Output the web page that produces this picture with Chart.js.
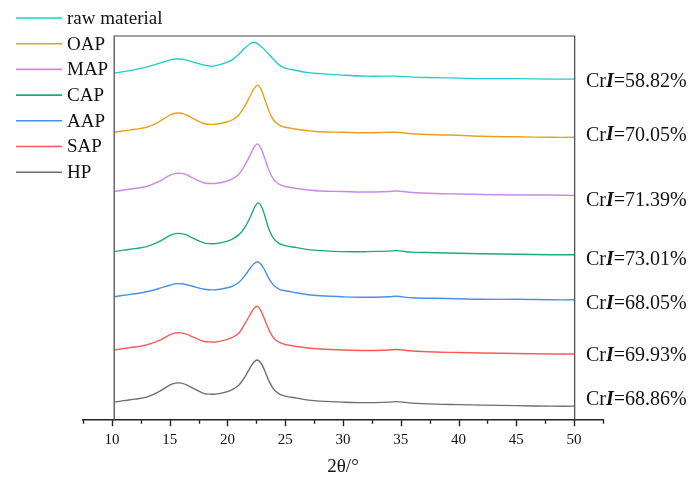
<!DOCTYPE html>
<html>
<head>
<meta charset="utf-8">
<script src="https://cdn.jsdelivr.net/npm/chart.js@4.4.1/dist/chart.umd.min.js"></script>
<style>
  html, body { margin: 0; padding: 0; background: #fff; }
  #xrd { display: block; }
</style>
</head>
<body>
<canvas id="xrd" width="688" height="478"></canvas>
<script>
// XRD patterns, stacked (intensity in arbitrary units, offsets included)

const THETA = [10.2, 11, 12, 13, 14, 15, 15.5, 16, 16.5, 17, 18, 18.5, 19, 20, 20.5, 21, 21.5, 22, 22.3, 22.6,
  22.9, 23.2, 23.6, 24, 24.5, 25, 26, 27, 28, 30, 32, 34, 34.6, 36, 38, 40, 42, 45, 48, 50];

const SAMPLES = ['raw material', 'OAP', 'MAP', 'CAP', 'AAP', 'SAP', 'HP'];
const CRI = ['58.82', '70.05', '71.39', '73.01', '68.05', '69.93', '68.86'];

const RAW = [346, 347.5, 349.5, 352, 355.5, 359, 360, 360, 359, 357, 354, 353, 353.5, 357, 360, 365, 371, 375.5, 376.5, 375.5,
  372.5, 369.5, 364.5, 359.5, 354, 351, 348.5, 346.5, 345.5, 344, 343, 343, 343, 342, 341.5, 341, 340.5, 340.5, 340, 340];
const OAP = [287, 288.5, 290, 292, 297, 304, 306, 306, 304, 301, 295.5, 295, 295, 297.5, 300, 304.5, 313, 324, 330.5, 334,
  330, 321, 308, 299, 294, 292, 290, 288.5, 287.5, 287, 286.5, 287, 287, 285.5, 284.5, 284, 283, 282.5, 282, 282];
const MAP = [228, 229.5, 231, 233, 237.5, 244, 246, 246, 244.5, 241.5, 236.5, 236, 236, 238.5, 241, 245.5, 254, 265, 272, 275.5,
  271, 262, 249, 240, 235, 233, 231, 229.5, 228.5, 228, 227.5, 228, 228.5, 227, 226, 225.5, 225, 224.5, 224.5, 224];
const CAP = [168, 169.5, 171, 173, 177.5, 184, 186, 186, 184.5, 181.5, 176.5, 176, 176, 178.5, 181, 185, 192, 203, 211, 216.5,
  214, 205, 190, 181, 176, 174, 172, 170, 169, 168, 168, 168.5, 169, 167.5, 167, 166.5, 166, 165.5, 165, 165];
const AAP = [123, 124.5, 126, 128, 131, 134.5, 136, 136, 135, 133.5, 130.5, 130, 130, 132, 134, 137.5, 144, 152, 156, 158,
  155.5, 150, 141, 134.5, 130.5, 129, 127, 125, 124, 123, 122.5, 123, 123.5, 122, 121.5, 121, 120.5, 120.5, 120, 120];
const SAP = [70, 71.5, 73, 75, 79, 85, 87, 87, 85.5, 83, 78.5, 78, 78, 80.5, 83, 87, 96, 106, 111.5, 113.5,
  109, 101, 90, 82, 77.5, 75.5, 73.5, 72, 71, 70, 69.5, 70, 70.5, 69, 68, 67.5, 67, 66.5, 66, 66];
const HP = [18, 19.5, 21, 23, 28, 35, 37, 37, 35, 32, 26.5, 26, 26, 28.5, 31, 35, 43, 53, 58, 60,
  57, 50, 39, 31, 26, 24, 22, 20, 19, 18, 17.5, 18, 18.5, 17, 16, 15.5, 15, 14.5, 14, 14];

const SERIES = [RAW, OAP, MAP, CAP, AAP, SAP, HP];
const COLORS = ['#22CCCC', '#E6A21E', '#C88AE8', '#1FAA78', '#4A90E8', '#FF5A5A', '#6E6E6E'];

const SERIF = '"Liberation Serif", "Times New Roman", serif';

const datasets = SAMPLES.map((name, i) => ({
  label: name,
  data: THETA.map((t, j) => ({ x: t, y: SERIES[i][j] })),
  borderColor: COLORS[i],
  borderWidth: 1.4,
  pointRadius: 0,
  fill: false,
  tension: 0.35
}));

// frame, ticks, legend and CrI labels
const decor = {
  id: 'decor',
  afterDraw(chart) {
    const { ctx, chartArea, scales: { x, y } } = chart;
    ctx.save();

    // frame round the patterns
    const fl = x.getPixelForValue(THETA[0]), fr = x.getPixelForValue(50.05);
    ctx.strokeStyle = '#444';
    ctx.lineWidth = 1.2;
    ctx.beginPath();
    ctx.moveTo(fl, chartArea.bottom);
    ctx.lineTo(fl, chartArea.top);
    ctx.lineTo(fr, chartArea.top);
    ctx.lineTo(fr, chartArea.bottom);
    ctx.stroke();

    // x ticks, major every 5, minor between
    ctx.strokeStyle = '#222';
    ctx.lineWidth = 1.4;
    x.ticks.forEach(t => {
      const px = Math.round(x.getPixelForValue(t.value)) + 0.5;
      const len = t.value % 5 === 0 ? 6 : 3.5;
      ctx.beginPath();
      ctx.moveTo(px, chartArea.bottom);
      ctx.lineTo(px, chartArea.bottom + len);
      ctx.stroke();
    });

    // legend top-left
    ctx.font = '19px ' + SERIF;
    ctx.textBaseline = 'middle';
    ctx.fillStyle = '#111';
    SAMPLES.forEach((name, i) => {
      const ly = 18 + i * 25.7;
      ctx.strokeStyle = COLORS[i];
      ctx.lineWidth = 1.6;
      ctx.beginPath();
      ctx.moveTo(16, ly);
      ctx.lineTo(62, ly);
      ctx.stroke();
      ctx.fillText(name, 67, ly + 1);
    });

    // crystallinity index labels at the right end of each pattern
    const nudge = [3, -2, 5, 5, 4, 2, -6];
    SERIES.forEach((s, i) => {
      const ly = y.getPixelForValue(s[s.length - 1]) + nudge[i];
      let lx = 586;
      ctx.font = '20px ' + SERIF;
      ctx.fillText('Cr', lx, ly);
      lx += ctx.measureText('Cr').width;
      ctx.font = 'italic bold 20px ' + SERIF;
      ctx.fillText('I', lx, ly);
      lx += ctx.measureText('I').width;
      ctx.font = '20px ' + SERIF;
      ctx.fillText('=' + CRI[i] + '%', lx, ly);
    });

    ctx.restore();
  }
};

new Chart(document.getElementById('xrd'), {
  type: 'line',
  data: { datasets },
  plugins: [decor],
  options: {
    responsive: false,
    animation: false,
    events: [],
    layout: { padding: { left: 83, right: 85, top: 36, bottom: 0 } },
    plugins: { legend: { display: false }, tooltip: { enabled: false } },
    scales: {
      x: {
        type: 'linear',
        min: 7.5,
        max: 52.5,
        border: { display: true, color: '#222', width: 1.5 },
        grid: { display: true, drawOnChartArea: false, drawTicks: true, tickLength: 6, tickColor: 'rgba(0,0,0,0)' },
        ticks: {
          stepSize: 2.5,
          autoSkip: false,
          maxRotation: 0,
          padding: 5,
          color: '#111',
          font: { family: SERIF, size: 15 },
          callback: v => (v % 5 === 0 ? String(v) : '')
        },
        title: {
          display: true,
          text: '2θ/°',
          color: '#111',
          font: { family: SERIF, size: 19 },
          padding: { top: 1, bottom: 0 }
        }
      },
      y: { type: 'linear', display: false, min: 0, max: 383 }
    }
  }
});
</script>
</body>
</html>
